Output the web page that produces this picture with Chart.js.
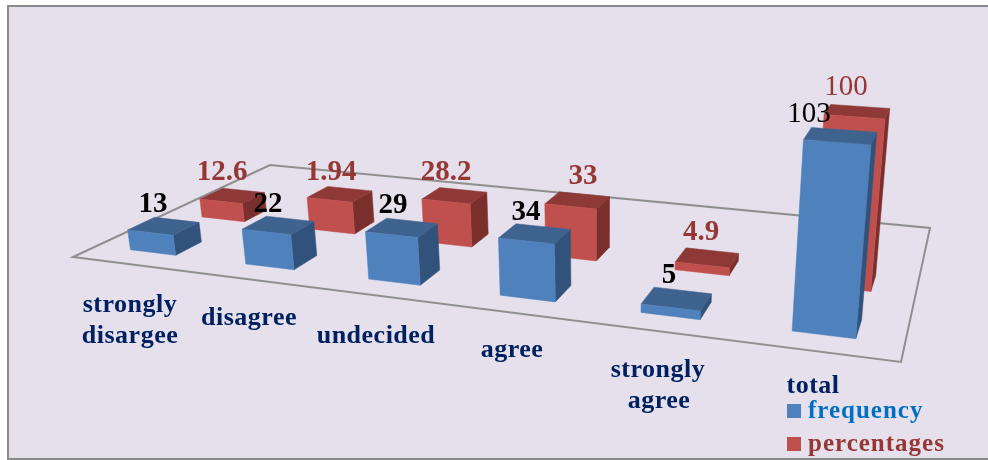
<!DOCTYPE html>
<html lang="en">
<head>
  <meta charset="UTF-8">
  <title>Responses</title>
  <style>
    body { margin: 0; background: #fff; }
    canvas { display: block; }
  </style>
</head>
<body>
  <canvas id="chart" width="988" height="460"></canvas>

  <script src="https://cdn.jsdelivr.net/npm/chart.js"></script>
  <script>
    // Values
    const categories = ['strongly disargee', 'disagree', 'undecided', 'agree', 'strongly agree', 'total'];
    const frequency = [13, 22, 29, 34, 5, 103];
    // the bar for "disagree" stands about 21.4 high although its label says 1.94
    const percentages = [12.6, 21.4, 28.2, 33, 4.9, 100];
    const frequencyLabels = ['13', '22', '29', '34', '5', '103'];
    const percentageLabels = ['12.6', '1.94', '28.2', '33', '4.9', '100'];

    // Perspective layout
    const FLOOR = [[73, 257], [901, 362], [930, 228], [270, 165]]; // front-left, front-right, back-right, back-left
    const DEPTH = { frequency: [0.10, 0.22], percentages: [0.42, 0.54] };
    const NUDGE = { frequency: 0, percentages: 0.006 }; // back row sits a little right on the left side
    const LIFT_X = -0.28, LIFT_Y = -1.66, LIFT_W = -0.000466; // per unit of value

    const SERIF = '"Liberation Serif", serif';
    const FACES = {
      frequency: { front: '#4f81bd', top: '#3e638f', side: '#31527a', text: '#0070c0' },
      percentages: { front: '#c0504d', top: '#8e3937', side: '#7a2f2d', text: '#953735' }
    };
    const frequencySpots = [[153, 212], [268, 212], [393, 213], [526, 220], [669, 283], [809, 122]];
    const percentageSpots = [[222, 180], [331, 180], [446, 180], [583, 184], [701, 240], [846, 95]];
    const categorySpots = [
      [[130, 312], [130, 343]],
      [[249, 325]],
      [[376, 343]],
      [[512, 357]],
      [[658, 377], [659, 408]],
      [[813, 393]]
    ];
    const categoryLines = [['strongly', 'disargee'], ['disagree'], ['undecided'], ['agree'], ['strongly', 'agree'], ['total']];

    // unit square -> floor quad
    function floorMatrix(q) {
      const [p0, p1, p2, p3] = q;
      const dx1 = p1[0] - p2[0], dx2 = p3[0] - p2[0], sx = p0[0] - p1[0] + p2[0] - p3[0];
      const dy1 = p1[1] - p2[1], dy2 = p3[1] - p2[1], sy = p0[1] - p1[1] + p2[1] - p3[1];
      const det = dx1 * dy2 - dx2 * dy1;
      const g = (sx * dy2 - dx2 * sy) / det;
      const h = (dx1 * sy - sx * dy1) / det;
      return {
        a: p1[0] - p0[0] + g * p1[0], b: p3[0] - p0[0] + h * p3[0], c: p0[0],
        d: p1[1] - p0[1] + g * p1[1], e: p3[1] - p0[1] + h * p3[1], f: p0[1],
        g, h
      };
    }
    const M = floorMatrix(FLOOR);

    function project(u, v, value) {
      const w = M.g * u + M.h * v + 1 + LIFT_W * value;
      return [
        (M.a * u + M.b * v + M.c + LIFT_X * value) / w,
        (M.d * u + M.e * v + M.f + LIFT_Y * value) / w
      ];
    }

    function face(ctx, pts, color) {
      ctx.fillStyle = color;
      ctx.strokeStyle = color;
      ctx.lineWidth = 0.5;
      ctx.beginPath();
      pts.forEach((p, i) => i ? ctx.lineTo(p[0], p[1]) : ctx.moveTo(p[0], p[1]));
      ctx.closePath();
      ctx.fill();
      ctx.stroke();
    }

    function drawBoxes(chart, datasetIndex) {
      const ctx = chart.ctx;
      const { x: xScale, y: yScale } = chart.scales;
      const name = chart.data.datasets[datasetIndex].label;
      const colors = FACES[name];
      const [v0, v1] = DEPTH[name];
      chart.getDatasetMeta(datasetIndex).data.forEach(el => {
        let u0 = (el.x - el.width / 2 - xScale.left) / xScale.width;
        let u1 = (el.x + el.width / 2 - xScale.left) / xScale.width;
        u0 += NUDGE[name] * (1 - u0);
        u1 += NUDGE[name] * (1 - u1);
        const val = yScale.getValueForPixel(el.y);
        face(ctx, [project(u1, v0, 0), project(u1, v1, 0), project(u1, v1, val), project(u1, v0, val)], colors.side);
        face(ctx, [project(u0, v0, val), project(u1, v0, val), project(u1, v1, val), project(u0, v1, val)], colors.top);
        face(ctx, [project(u0, v0, 0), project(u1, v0, 0), project(u1, v0, val), project(u0, v0, val)], colors.front);
      });
    }

    function text(ctx, str, x, y, font, color, spacing) {
      ctx.font = font;
      ctx.fillStyle = color;
      ctx.letterSpacing = spacing || '0px';
      ctx.fillText(str, x, y);
    }

    const perspective = {
      id: 'perspective',
      beforeDraw(chart) {
        const ctx = chart.ctx;
        ctx.fillStyle = '#e5e0ec';
        ctx.strokeStyle = '#8a8a8a';
        ctx.lineWidth = 2;
        ctx.fillRect(8, 6, 990, 453);
        ctx.strokeRect(8, 6, 990, 453);
      },
      beforeDatasetsDraw(chart) {
        const ctx = chart.ctx;
        ctx.save();

        ctx.strokeStyle = '#8f8f8f';
        ctx.lineWidth = 2;
        ctx.beginPath();
        FLOOR.forEach((p, i) => i ? ctx.lineTo(p[0], p[1]) : ctx.moveTo(p[0], p[1]));
        ctx.closePath();
        ctx.stroke();

        drawBoxes(chart, 1);
        drawBoxes(chart, 0);

        ctx.textAlign = 'center';
        ctx.textBaseline = 'alphabetic';
        frequencyLabels.forEach((t, i) => {
          const weight = i === 5 ? 'normal' : 'bold';
          text(ctx, t, frequencySpots[i][0], frequencySpots[i][1], weight + ' 29px ' + SERIF, '#000');
        });
        percentageLabels.forEach((t, i) => {
          const weight = i === 5 ? 'normal' : 'bold';
          text(ctx, t, percentageSpots[i][0], percentageSpots[i][1], weight + ' 29px ' + SERIF, FACES.percentages.text);
        });
        categoryLines.forEach((lines, i) => {
          lines.forEach((line, j) => {
            const spot = categorySpots[i][j];
            text(ctx, line, spot[0], spot[1], 'bold 26px ' + SERIF, '#002060', '0.5px');
          });
        });

        // legend
        ctx.textAlign = 'left';
        chart.data.datasets.forEach((ds, i) => {
          const y = i ? 437 : 404;
          ctx.fillStyle = ds.backgroundColor;
          ctx.fillRect(787, y, 14, 14);
          text(ctx, ds.label, 808, y + 14, 'bold 25px ' + SERIF, FACES[ds.label].text, '1px');
        });

        ctx.restore();
        return false; // boxes above replace the flat bars
      }
    };

    new Chart(document.getElementById('chart'), {
      type: 'bar',
      data: {
        labels: categories,
        datasets: [
          { label: 'frequency', data: frequency, backgroundColor: FACES.frequency.front },
          { label: 'percentages', data: percentages, backgroundColor: FACES.percentages.front }
        ]
      },
      options: {
        responsive: false,
        animation: false,
        grouped: false,
        barPercentage: 0.4,
        categoryPercentage: 1,
        layout: { padding: 0 },
        plugins: { legend: { display: false }, tooltip: { enabled: false } },
        scales: {
          x: { display: false },
          y: { display: false, min: 0, max: 120 }
        }
      },
      plugins: [perspective]
    });
  </script>
</body>
</html>
